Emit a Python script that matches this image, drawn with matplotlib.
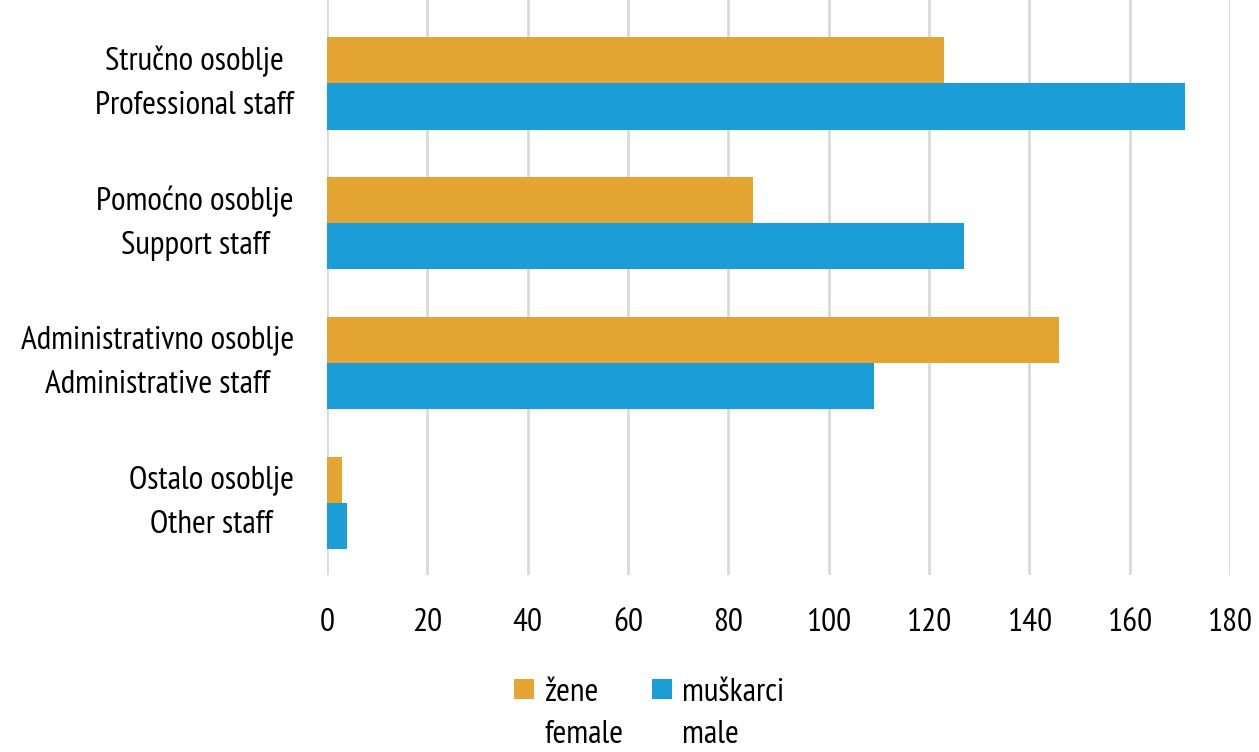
import numpy as np
import matplotlib.pyplot as plt
from matplotlib.legend_handler import HandlerPatch
from matplotlib.patches import Rectangle

plt.rcParams['font.family'] = ['PT Sans Narrow', 'DejaVu Sans']

categories = ["Stručno osoblje\nProfessional staff",
              "Pomoćno osoblje\nSupport staff",
              "Administrativno osoblje\nAdministrative staff",
              "Ostalo osoblje\nOther staff"]
female = [123, 85, 146, 3]
male = [171, 127, 109, 4]
series_labels = ["žene\nfemale", "muškarci\nmale"]
xticks = [0, 20, 40, 60, 80, 100, 120, 140, 160, 180]

c_female = '#E5A532'
c_male = '#1B9ED8'


class UpPatch(HandlerPatch):
    # put the legend square next to the first text line
    def create_artists(self, legend, orig_handle, xdescent, ydescent,
                       width, height, fontsize, trans):
        s = 0.6 * fontsize
        y = -ydescent + fontsize * 0.8
        p = Rectangle((-xdescent + width - s, y), s, s,
                      facecolor=orig_handle.get_facecolor(), transform=trans)
        return [p]


fig = plt.figure(figsize=(12.59, 7.52), dpi=100)
ax = fig.add_axes([327 / 1259, 1 - 575 / 752, (1230 - 327) / 1259, 575 / 752])

y = np.arange(len(categories))
h = 0.33
b1 = ax.barh(y - h / 2, female, height=h, color=c_female, label=series_labels[0], zorder=3)
b2 = ax.barh(y + h / 2, male, height=h, color=c_male, label=series_labels[1], zorder=3)

ax.set_xlim(0, 180)
ax.set_ylim(3.514, -0.596)
ax.set_xticks(xticks)
ax.set_yticks(y)
ax.set_yticklabels(categories, multialignment='center', linespacing=1.62, va='center')
ax.tick_params(axis='both', length=0, labelsize=24)
ax.tick_params(axis='x', pad=24)
ax.tick_params(axis='y', pad=24)
ax.grid(axis='x', color='#D9D9D9', linewidth=2, zorder=0)
for sp in ax.spines.values():
    sp.set_visible(False)

h1, h2 = b1.patches[0], b2.patches[0]
leg = fig.legend(handles=[h1, h2], labels=series_labels, loc='lower center',
                 bbox_to_anchor=(0.513, -0.02), ncol=2, frameon=False, fontsize=24,
                 handler_map={h1: UpPatch(), h2: UpPatch()}, borderpad=0.0,
                 handlelength=0.8, handletextpad=0.3, columnspacing=0.65)
for t in leg.get_texts():
    t.set_linespacing(1.52)

plt.savefig('out.png', dpi=100)
